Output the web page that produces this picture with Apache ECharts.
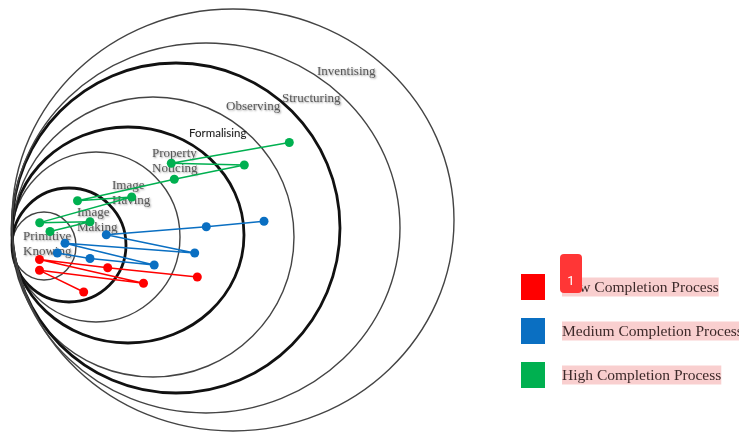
<!DOCTYPE html>
<html>
<head>
<meta charset="utf-8">
<script src="https://cdn.jsdelivr.net/npm/echarts@6/dist/echarts.min.js"></script>
<style>
html,body{margin:0;padding:0;background:#fff;}
#chart{width:739px;height:433px;}
</style>
</head>
<body>
<div id="chart"></div>
<script>
// Nested stages of the model (ellipse centre / radii in diagram units)
const stageNames = ['Primitive Knowing','Image Making','Image Having','Property Noticing','Formalising','Observing','Structuring','Inventising'];
const stageCx = [44, 69, 96, 128, 153, 176, 206, 233];
const stageCy = [246, 245, 237, 235, 237, 228, 228, 220];
const stageRx = [32, 57, 84, 116, 141, 164, 194, 221];
const stageRy = [34, 57, 85, 108, 140, 165, 185, 211];
const stageBold = [false, true, false, true, false, true, false, false];

// Paths of each completion group (x, y in diagram units)
const lowPath = [[197.3,277],[107.7,267.7],[39.5,259.5],[143.5,283.3],[39.5,270.3],[83.7,292]];
const mediumPath = [[264,221.2],[206.3,226.7],[106.3,234.7],[194.7,253],[65,243.3],[154.2,265],[90,258.5],[57.3,253]];
const highPath = [[289.3,142.5],[171.3,163.3],[244.3,165],[174.3,179.3],[77.5,200.7],[131.7,197],[39.7,222.7],[90,221.7],[50,231.5]];

const seriesNames = ['Low Completion Process','Medium Completion Process','High Completion Process'];
const seriesColors = ['#ff0000','#0a6fc2','#00b050'];

const stageData = stageNames.map((n,i)=>[stageCx[i], stageCy[i], stageRx[i], stageRy[i], stageBold[i]?1:0]);

const chart = echarts.init(document.getElementById('chart'));

const labelStyle = {
  fill:'#585858', fontSize:13, fontFamily:'Liberation Serif', verticalAlign:'middle', align:'left',
  lineHeight:15, textShadowColor:'rgba(0,0,0,0.4)', textShadowBlur:2, textShadowOffsetX:1, textShadowOffsetY:1
};
function lab(text, x, y, extra){
  return {type:'text', x:x, y:y, z:5, style:Object.assign({}, labelStyle, {text:text}, extra||{})};
}

const option = {
  animation:false,
  backgroundColor:'#fff',
  grid:{left:0,right:0,top:0,bottom:0},
  xAxis:{type:'value',min:0,max:739,show:false},
  yAxis:{type:'value',min:0,max:433,inverse:true,show:false},
  legend:{
    orient:'vertical', left:521, top:274, padding:0, itemWidth:24, itemHeight:26, itemGap:18,
    icon:'rect', selectedMode:false, data:seriesNames,
    formatter: n => '{g|}{t|' + n + '}',
    textStyle:{rich:{
      g:{width:12},
      t:{fontFamily:'Liberation Serif', fontSize:15.5, color:'#3d2a2a', backgroundColor:'#f9cfcf', padding:[2,0,1,0]}
    }}
  },
  graphic:[
    lab('Primitive\nKnowing', 23, 244.5),
    lab('Image\nMaking', 77, 220.5),
    lab('Image\nHaving', 112, 193.5),
    lab('Property\nNoticing', 152, 161.5),
    lab('Formalising', 189, 133, {fontFamily:'Lato', fontSize:11.5, fill:'#222', textShadowBlur:1, textShadowColor:'rgba(0,0,0,0.2)', textShadowOffsetX:0, textShadowOffsetY:0}),
    lab('Observing', 226, 107),
    lab('Structuring', 282, 99),
    lab('Inventising', 317, 72),
    {type:'rect', x:560, y:254, z:100, shape:{x:0,y:0,width:22,height:39,r:4}, style:{fill:'#ff3636'}},
    {type:'text', x:571, y:282, z:101, style:{text:'1', fill:'#fff', fontSize:13, fontFamily:'Roboto', align:'center', verticalAlign:'middle'}}
  ],
  series:[
    {
      type:'custom', name:'stages', z:1, silent:true,
      data:stageData,
      encode:{x:0,y:1},
      renderItem:(params, api)=>{
        const c = api.coord([api.value(0), api.value(1)]);
        const s = api.size([api.value(2), api.value(3)]);
        const bold = api.value(4) === 1;
        return {type:'ellipse', shape:{cx:c[0], cy:c[1], rx:s[0], ry:s[1]},
          style:{fill:'none', stroke: bold ? '#111' : '#444', lineWidth: bold ? 2.8 : 1.4}};
      }
    },
    ...[lowPath, mediumPath, highPath].map((p,i)=>({
      type:'line', name:seriesNames[i], z:10, data:p,
      symbol:'circle', symbolSize:9, showSymbol:true,
      lineStyle:{color:seriesColors[i], width:1.4},
      itemStyle:{color:seriesColors[i]}
    }))
  ]
};
chart.setOption(option);
</script>
</body>
</html>
